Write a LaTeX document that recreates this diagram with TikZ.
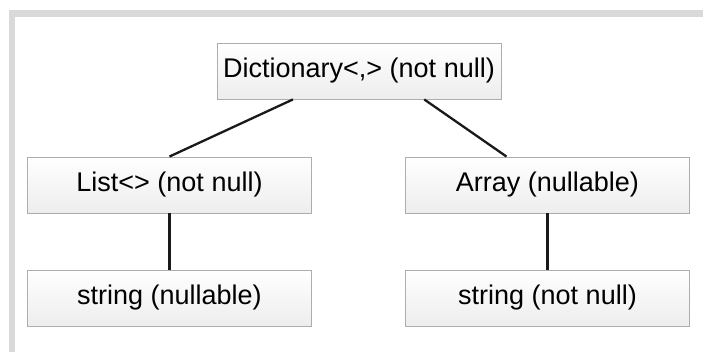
\documentclass[tikz,border=0pt]{standalone}
\usepackage{fontspec}
\setmainfont{Liberation Sans}
\usetikzlibrary{calc}

\begin{document}
\begin{tikzpicture}[
  x=1pt,
  y=-1pt,
  font=\fontsize{27}{31}\selectfont,
  frame/.style={fill=black!15, draw=none},
  typebox/.style={
    rectangle,
    draw=black!32,
    line width=0.9pt,
    top color=white,
    bottom color=black!7,
    minimum width=284pt,
    minimum height=56pt,
    inner sep=0pt
  },
  link/.style={draw=black!90, line width=2.3pt}
]

\useasboundingbox (0,0) rectangle (703,352);

% ---------------------------------------------------------------------------
% Frame edges (top and left)
% ---------------------------------------------------------------------------
\path[frame] (9,10) rectangle (703,17);
\path[frame] (9,10) rectangle (15,352);

% ---------------------------------------------------------------------------
% Type tree
% ---------------------------------------------------------------------------
\node[typebox] (dict) at (359,71) {Dictionary<,> (not null)};
\node[typebox] (list) at (169.5,185) {List<> (not null)};
\node[typebox] (arr) at (547.5,185) {Array (nullable)};
\node[typebox] (liststr) at (169.5,298) {string (nullable)};
\node[typebox] (arrstr) at (547.5,298) {string (not null)};

\draw[link] ($(dict.south west)!0.268!(dict.south east)$) -- (list.north);
\draw[link] ($(dict.south west)!0.729!(dict.south east)$)
  -- ($(arr.north west)!0.356!(arr.north east)$);
\draw[link] (list.south) -- (liststr.north);
\draw[link] (arr.south) -- (arrstr.north);

\end{tikzpicture}
\end{document}
